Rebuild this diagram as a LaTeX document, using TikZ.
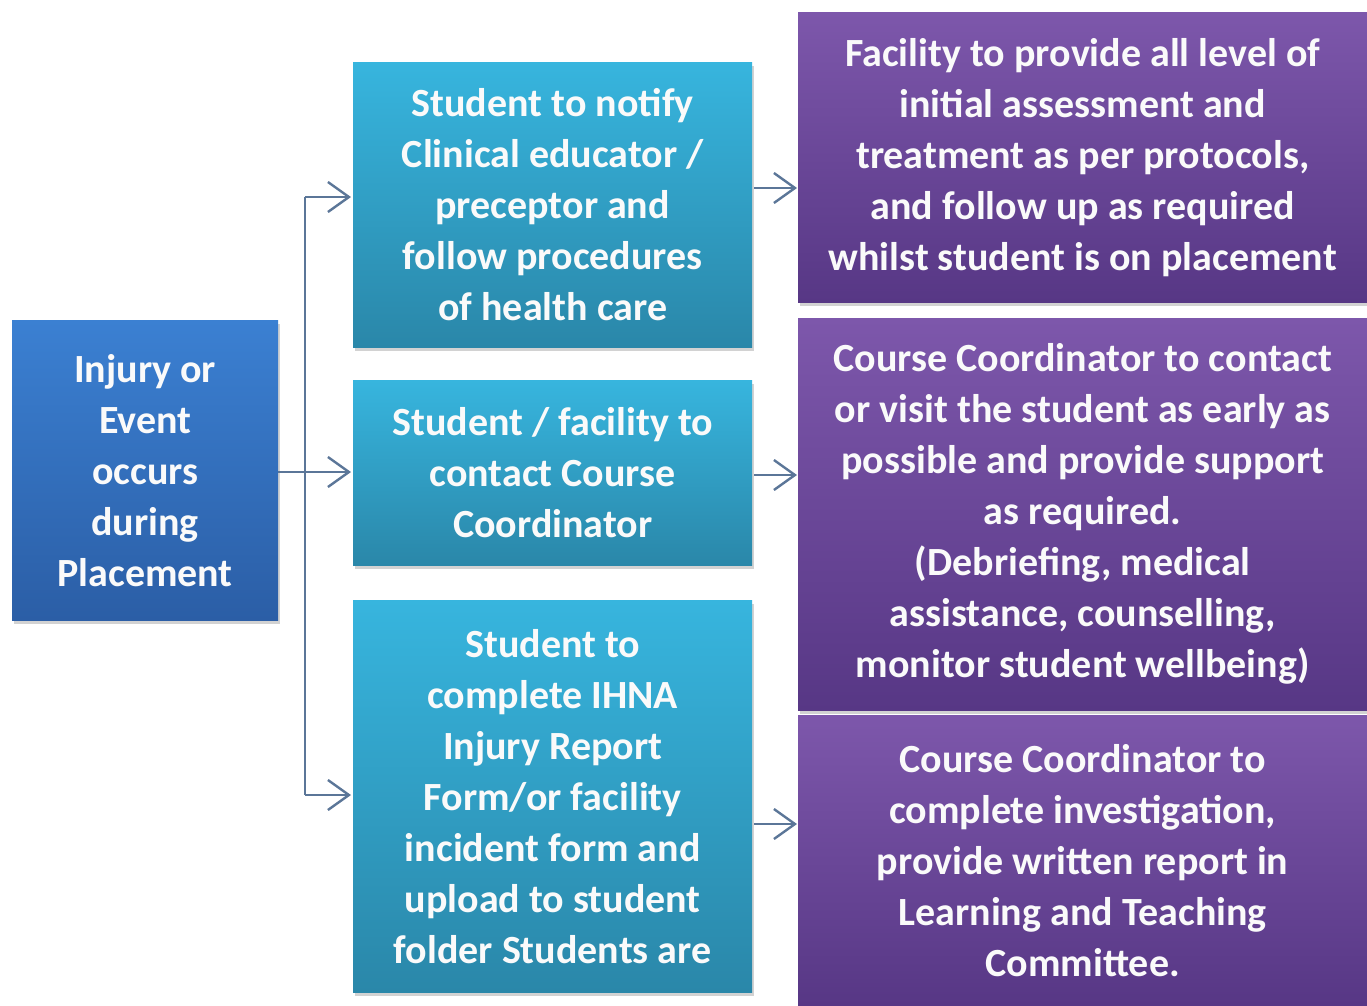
\documentclass[tikz,border=0pt]{standalone}
\usepackage{fontspec}
\setmainfont{Carlito}
\usetikzlibrary{arrows.meta,shadows}
\definecolor{lefttop}{HTML}{3B80D2}
\definecolor{leftbot}{HTML}{2B5EA6}
\definecolor{midtop}{HTML}{37B5DE}
\definecolor{midbot}{HTML}{2A87A9}
\definecolor{righttop}{HTML}{7D57AB}
\definecolor{rightbot}{HTML}{573785}
\definecolor{linecol}{HTML}{5B7698}
\definecolor{txt}{HTML}{FAFAFA}
\tikzset{
  box/.style={anchor=north west, inner sep=4pt, align=center, text=txt,
    font=\bfseries\fontsize{40}{51}\selectfont,
    drop shadow={opacity=0.35, shadow xshift=2pt, shadow yshift=-4pt}},
  leftbox/.style={box, top color=lefttop, bottom color=leftbot},
  midbox/.style={box, top color=midtop, bottom color=midbot},
  rightbox/.style={box, top color=righttop, bottom color=rightbot},
  conn/.style={draw=linecol, line width=2.4pt},
  arr/.style={conn, -{Straight Barb[length=21pt, width=30pt, line width=2.4pt]}}
}
\begin{document}
\begin{tikzpicture}[x=1pt,y=1pt]
\useasboundingbox (0,0) rectangle (1367,-1005);
\fill[white] (0,0) rectangle (1367,-1005);

\node[leftbox, minimum width=266pt, minimum height=300pt] (inj) at (12,-320)
  {Injury or\\Event\\occurs\\during\\Placement};

\node[midbox, minimum width=399pt, minimum height=285pt] (m1) at (353,-62)
  {Student to notify\\Clinical educator /\\preceptor and\\follow procedures\\of health care};
\node[midbox, minimum width=399pt, minimum height=185pt] (m2) at (353,-380)
  {Student / facility to\\contact Course\\Coordinator};
\node[midbox, minimum width=399pt, minimum height=392pt] (m3) at (353,-600)
  {Student to\\complete IHNA\\Injury Report\\Form/or facility\\incident form and\\upload to student\\folder Students are};

\node[rightbox, minimum width=569pt, minimum height=290pt] (r1) at (798,-12)
  {Facility to provide all level of\\initial assessment and\\treatment as per protocols,\\and follow up as required\\whilst student is on placement};
\node[rightbox, minimum width=569pt, minimum height=392pt] (r2) at (798,-318)
  {Course Coordinator to contact\\or visit the student as early as\\possible and provide support\\as required.\\(Debriefing, medical\\assistance, counselling,\\monitor student wellbeing)};
\node[rightbox, minimum width=569pt, minimum height=290pt] (r3) at (798,-715)
  {Course Coordinator to\\complete investigation,\\provide written report in\\Learning and Teaching\\Committee.};

\coordinate (t1) at (305,-197);
\coordinate (t2) at (305,-472);
\coordinate (t3) at (305,-795);
\draw[conn] (inj.east |- t2) -- (t2);
\draw[conn] (t1) -- (t3);
\draw[arr] (t1) -- ([xshift=-2pt]m1.west |- t1);
\draw[arr] (t2) -- ([xshift=-2pt]m2.west |- t2);
\draw[arr] (t3) -- ([xshift=-2pt]m3.west |- t3);

\coordinate (s1) at (752,-188);
\coordinate (s2) at (752,-475);
\coordinate (s3) at (752,-824);
\draw[arr] ([xshift=2pt]m1.east |- s1) -- ([xshift=-1pt]r1.west |- s1);
\draw[arr] ([xshift=2pt]m2.east |- s2) -- ([xshift=-1pt]r2.west |- s2);
\draw[arr] ([xshift=2pt]m3.east |- s3) -- ([xshift=-1pt]r3.west |- s3);
\end{tikzpicture}
\end{document}
